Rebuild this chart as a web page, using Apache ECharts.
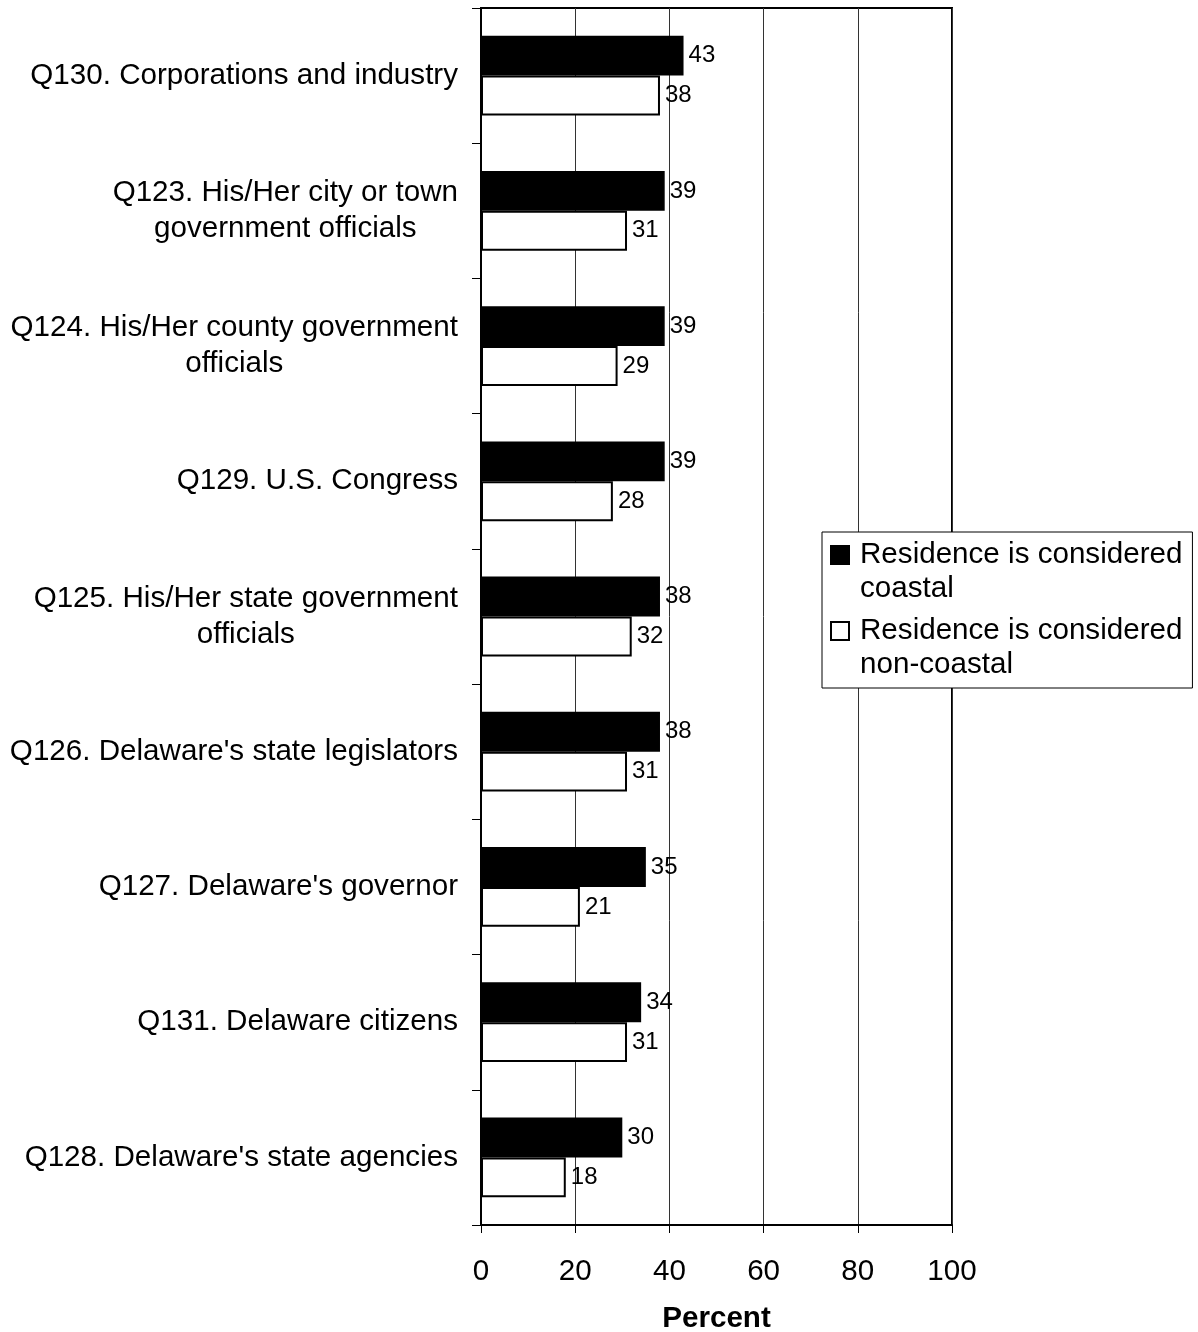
<!DOCTYPE html>
<html>
<head>
<meta charset="utf-8">
<script src="https://cdn.jsdelivr.net/npm/echarts@6/dist/echarts.min.js"></script>
<style>
html,body{margin:0;padding:0;background:#fff;}
#chart{width:1198px;height:1332px;}
</style>
</head>
<body>
<div id="chart"></div>
<script>
// categories, top to bottom
var categories = [
	"Q130. Corporations and industry",
	"Q123. His/Her city or town\ngovernment officials",
	"Q124. His/Her county government\nofficials",
	"Q129. U.S. Congress",
	"Q125. His/Her state government\nofficials",
	"Q126. Delaware's state legislators",
	"Q127. Delaware's governor",
	"Q131. Delaware citizens",
	"Q128. Delaware's state agencies"
];
var coastal = [43, 39, 39, 39, 38, 38, 35, 34, 30];
var nonCoastal = [38, 31, 29, 28, 32, 31, 21, 31, 18];
var seriesNames = ["Residence is considered coastal", "Residence is considered non-coastal"];
var legendLabels = ["Residence is considered\ncoastal", "Residence is considered\nnon-coastal"];
var xTicks = [0, 20, 40, 60, 80, 100];

var font = '"Liberation Sans", Arial, sans-serif';
var fs = 29.6;

var chart = echarts.init(document.getElementById("chart"));
var option = {
	backgroundColor: "#fff",
	animation: false,
	textStyle: {fontFamily: font, color: "#000"},
	grid: {
		left: 481, right: 246, top: 8, bottom: 107,
		outerBoundsMode: "none",
		containLabel: false,
		show: true, borderColor: "#000", borderWidth: 2
	},
	legend: {
		orient: "vertical",
		left: 822, top: 532,
		padding: [6, 10, 6, 8],
		itemGap: 8,
		itemWidth: 18, itemHeight: 52,
		backgroundColor: "#fff",
		borderColor: "#000", borderWidth: 1, borderRadius: 0,
		// square at the top, empty space below so it sits on the first text line
		icon: "path://M0,0h18v18h-18z M0,52",
		data: seriesNames,
		formatter: function(name){
			return legendLabels[seriesNames.indexOf(name)];
		},
		textStyle: {fontSize: fs, lineHeight: 34, color: "#000", fontFamily: font, padding: [0, 0, 0, 6]}
	},
	xAxis: {
		type: "value",
		min: xTicks[0], max: xTicks[xTicks.length - 1], interval: 20,
		axisLine: {show: true, lineStyle: {color: "#000", width: 2}},
		axisTick: {show: true, length: 8, lineStyle: {color: "#000", width: 1}},
		axisLabel: {fontSize: fs, color: "#000", margin: 32, fontFamily: font},
		splitLine: {show: true, lineStyle: {color: "#333", width: 1}},
		name: "Percent",
		nameLocation: "middle",
		nameGap: 79,
		nameTextStyle: {fontSize: fs, fontWeight: "bold", color: "#000", fontFamily: font}
	},
	yAxis: {
		type: "category",
		inverse: true,
		data: categories,
		axisLine: {show: true, lineStyle: {color: "#000", width: 2}},
		axisTick: {show: true, length: 9, lineStyle: {color: "#000", width: 1}},
		axisLabel: {
			margin: 23,
			fontFamily: font,
			formatter: function(v){
				return v.split("\n").map(function(l){ return "{c|" + l + "}"; }).join("\n");
			},
			rich: {
				c: {align: "center", fontSize: fs, lineHeight: 36, color: "#000", fontFamily: font}
			}
		},
		splitLine: {show: false}
	},
	series: [
		{
			name: seriesNames[0],
			type: "bar",
			data: coastal,
			barGap: "0%",
			barCategoryGap: "41%",
			itemStyle: {color: "#000", borderColor: "#000", borderWidth: 1.5},
			label: {show: true, position: "right", distance: 5, fontSize: 24, color: "#000", fontFamily: font}
		},
		{
			name: seriesNames[1],
			type: "bar",
			data: nonCoastal,
			itemStyle: {color: "#fff", borderColor: "#000", borderWidth: 2},
			label: {show: true, position: "right", distance: 5, fontSize: 24, color: "#000", fontFamily: font}
		}
	]
};
chart.setOption(option);
</script>
</body>
</html>
